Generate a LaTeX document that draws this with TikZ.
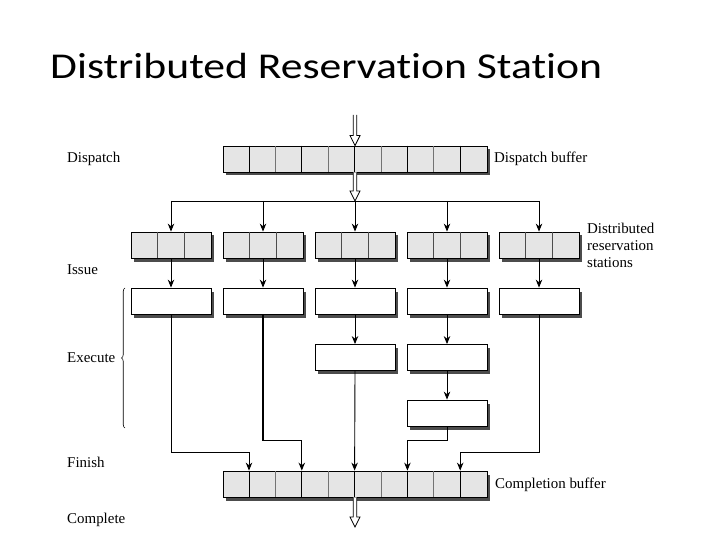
\documentclass[tikz,border=0pt]{standalone}
\usepackage{fontspec}
\setmainfont{Liberation Serif}
\newfontfamily\titlefont[Ligatures=NoCommon]{Carlito}
\usepackage{tikz}
\usetikzlibrary{arrows.meta, calc, positioning, shadows, decorations.pathreplacing}

\begin{document}
\begin{tikzpicture}[
    x=1bp, y=-1bp,
    buffer/.style={draw, line width=0.8bp, fill=gray!20, minimum width=264bp, minimum height=26bp, inner sep=0pt,
        drop shadow={shadow xshift=3bp, shadow yshift=-3.5bp, fill=black!70, opacity=1}},
    rsbox/.style={buffer, minimum width=80bp},
    exbox/.style={rsbox, fill=white},
    lbl/.style={anchor=west, inner sep=0pt, font=\fontsize{15}{17}\selectfont},
    flow/.style={-{Stealth[length=8bp, width=6.5bp]}, line width=0.9bp},
    hollow/.style={draw, line width=0.8bp, fill=white, to path={
        let \p1=(\tikztostart), \p2=(\tikztotarget) in
        (\x1-1.8bp,\y1) -- (\x1-1.8bp,\y2+10bp) -- (\x1-5bp,\y2+10bp) -- (\x1,\y2)
        -- (\x1+5bp,\y2+10bp) -- (\x1+1.8bp,\y2+10bp) -- (\x1+1.8bp,\y1)}}
]
\useasboundingbox (0,0) rectangle (720,540);

% title
\node[anchor=base west, inner sep=0pt] (title) at (50,79)
    {\scalebox{1.2}[1]{\titlefont\fontsize{36.5}{40}\selectfont Distributed Reservation Station}};

% buffers
\node[buffer] (DB) at (355,159) {};
\node[buffer] (CB) at (355,484) {};
\foreach \k in {2,4,6,8} {
  \draw[black!55, line width=0.8bp] ($(DB.north west)+(\k*26.4,0)$) -- ($(DB.south west)+(\k*26.4,0)$);
  \draw[black!55, line width=0.8bp] ($(CB.north west)+(\k*26.4,0)$) -- ($(CB.south west)+(\k*26.4,0)$);
}
\foreach \k in {1,3,5,7,9} {
  \draw[line width=0.8bp] ($(DB.north west)+(\k*26.4,0)$) -- ($(DB.south west)+(\k*26.4,0)$);
  \draw[line width=0.8bp] ($(CB.north west)+(\k*26.4,0)$) -- ($(CB.south west)+(\k*26.4,0)$);
  \coordinate (in\k) at ($(CB.north west)+(\k*26.4,0)$);
}

% reservation stations and execution units
\foreach \i in {1,...,5} {
  \node[rsbox] (RS\i) at (171+92*\i-92,245) {};
  \draw[black!70, line width=0.8bp] ($(RS\i.north west)+(26.7,0)$) -- ($(RS\i.south west)+(26.7,0)$);
  \draw[black!70, line width=0.8bp] ($(RS\i.north west)+(53.3,0)$) -- ($(RS\i.south west)+(53.3,0)$);
  \node[exbox] (EX\i) at (171+92*\i-92,301) {};
}
\node[exbox] (EX6) at (355,357.5) {};
\node[exbox] (EX7) at (447,357.5) {};
\node[exbox] (EX8) at (447,413) {};

% dispatch
\coordinate (in) at (355,115);
\coordinate (split) at (355,201);
\coordinate (out) at (355,527);
\draw[hollow] (in) to (DB.north);
\draw[line width=0.9bp] (RS1.north |- split) -- (RS5.north |- split);
\draw[hollow] (DB.south) to (split);
\foreach \i in {1,...,5} {
  \draw[flow] (RS\i.north |- split) -- (RS\i.north);
  \draw[flow] (RS\i.south) -- (EX\i.north);
}

% execute
\draw[flow] (EX3.south) -- (EX6.north);
\draw[flow] (EX4.south) -- (EX7.north);
\draw[flow] (EX7.south) -- (EX8.north);

% finish
\draw[flow] (EX1.south) -- ++(0,138) -| (in1);
\draw[flow, line width=1.1bp] (EX2.south) -- ++(0,126) -| (in3);
\draw[flow] (EX6.south) -- (in5);
\draw[flow] (EX8.south) -- ++(0,14) -| (in7);
\draw[flow] (EX5.south) -- ++(0,138) -| (in9);
\draw[hollow] (CB.south) to (out);

% brace
\coordinate (bt) at (125,288);
\coordinate (bb) at (125,428);
\draw[line width=0.6bp, decorate, decoration={brace, amplitude=3.5bp}] (bb) -- (bt);

% labels
\node[lbl] (dispatch) at (67,159) {Dispatch};
\node[lbl] (issue) at (67,270) {Issue};
\node[lbl] (execute) at (67,358) {Execute};
\node[lbl] (finish) at (67,462) {Finish};
\node[lbl] (complete) at (67,520) {Complete};
\node[lbl] (dbuf) at (494,159) {Dispatch buffer};
\node[lbl, align=left] (drs) at (587,245) {Distributed\\reservation\\stations};
\node[lbl] (cbuf) at (495,485) {Completion buffer};
\end{tikzpicture}
\end{document}
